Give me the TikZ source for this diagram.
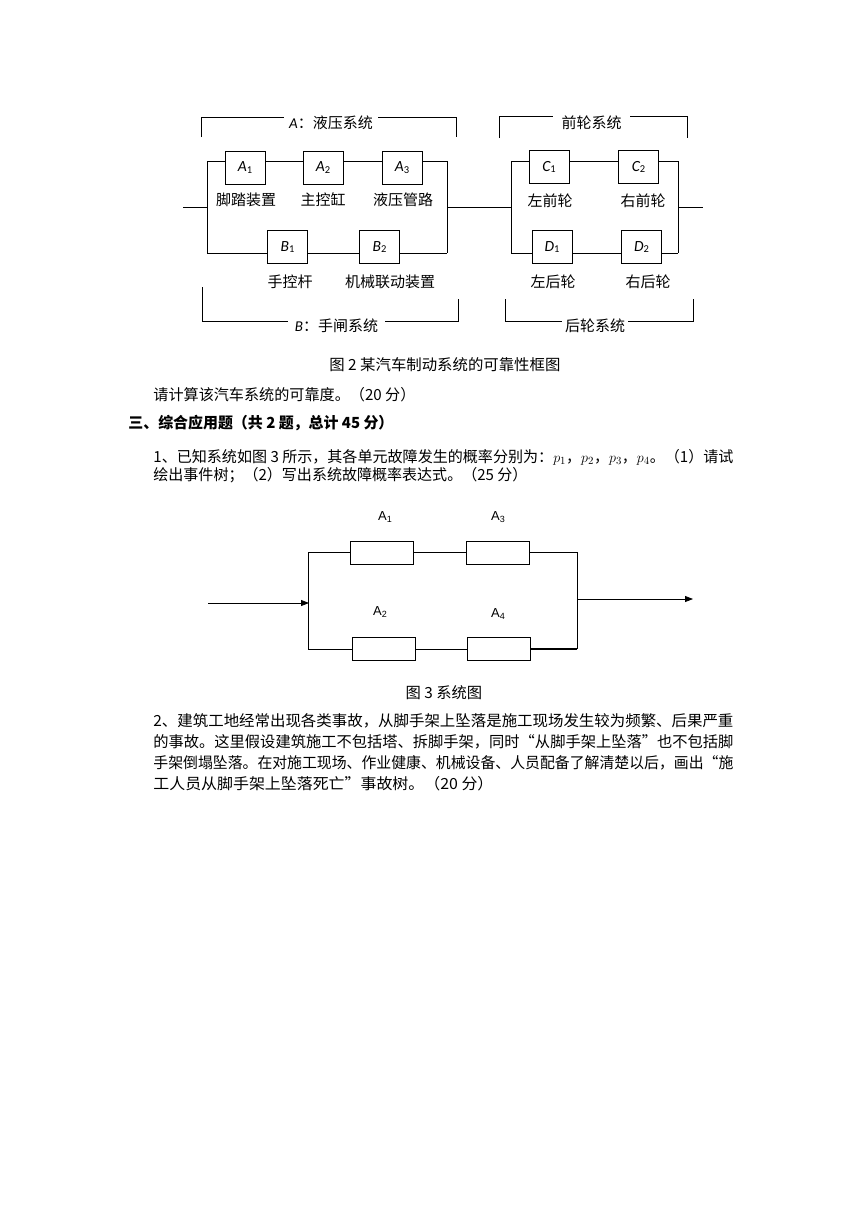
\documentclass[tikz,border=0pt]{standalone}
\usepackage{fontspec}
\usepackage{graphicx}
\setmainfont{Noto Sans CJK SC}
\newfontfamily\latf{Carlito}
\newfontfamily\arialf{Liberation Sans}
\usetikzlibrary{arrows.meta}
\newcommand\boxlab[2]{{\latf\itshape #1}{\latf\raisebox{-0.12em}{\fontsize{10.5}{10.5}\selectfont #2}}}
\newcommand\syslab[2]{{\arialf #1\raisebox{-0.15em}{\fontsize{9}{9}\selectfont #2}}}
\newcommand\fitline[2]{\resizebox{#1pt}{\height}{#2}}
\begin{document}
\begin{tikzpicture}[x=1pt,y=-1pt, line width=0.8pt,
 rbox/.style={draw, minimum width=40pt, minimum height=33pt, inner sep=0pt, font=\fontsize{15.5}{15.5}\selectfont},
 lab/.style={inner sep=0pt, font=\fontsize{15}{15}\selectfont},
 brk/.style={fill=white, inner ysep=1pt, font=\fontsize{15}{15}\selectfont},
 sbox/.style={draw, minimum width=63pt, minimum height=23pt, inner sep=0pt},
 slab/.style={inner sep=0pt, font=\fontsize{13}{13}\selectfont},
 txt/.style={anchor=base west, inner sep=0pt, font=\fontsize{15.3}{15.3}\selectfont},
 arr/.style={-{Triangle[length=8pt,width=6pt]}},
]
\fill[white] (0,0) rectangle (865,1224);
\useasboundingbox (0,0) rectangle (865,1224);

% ---------- Figure 2 ----------
% brackets
\coordinate (aTL) at (201,137); \coordinate (aTR) at (456,137);
\draw (aTL) -- (201,117) -- (456,117) -- (aTR);
\node[brk, inner xsep=5.5pt] (aT) at (331,123) {{\latf\itshape A}：液压系统};
\coordinate (bBL) at (202,287); \coordinate (bBR) at (458,299);
\draw (bBL) -- (202,321) -- (458,321) -- (bBR);
\node[brk, inner xsep=7pt] (bT) at (336.5,326) {{\latf\itshape B}：手闸系统};
\coordinate (cTL) at (499,138); \coordinate (cTR) at (687,138);
\draw (cTL) -- (499,116) -- (687,116) -- (cTR);
\node[brk, inner xsep=8.5pt] (cT) at (591.5,123) {前轮系统};
\coordinate (dBL) at (505,299); \coordinate (dBR) at (693,299);
\draw (dBL) -- (505,321) -- (693,321) -- (dBR);
\node[brk, inner xsep=3pt] (dT) at (595,326) {后轮系统};

% boxes
\node[rbox] (A1) at (245,167.5) {\boxlab{A}{1}};
\node[rbox] (A2) at (323,167.5) {\boxlab{A}{2}};
\node[rbox] (A3) at (402,167.5) {\boxlab{A}{3}};
\node[rbox] (B1) at (287.5,247) {\boxlab{B}{1}};
\node[rbox] (B2) at (379.5,247) {\boxlab{B}{2}};
\node[rbox] (C1) at (549,167) {\boxlab{C}{1}};
\node[rbox] (C2) at (638.5,167) {\boxlab{C}{2}};
\node[rbox] (D1) at (552,247) {\boxlab{D}{1}};
\node[rbox] (D2) at (641.5,247) {\boxlab{D}{2}};

% labels
\node[lab] (lA1) at (246,200) {脚踏装置};
\node[lab] (lA2) at (323,200) {主控缸};
\node[lab] (lA3) at (403,200) {液压管路};
\node[lab] (lB1) at (290,282) {手控杆};
\node[lab] (lB2) at (390,282) {机械联动装置};
\node[lab] (lC1) at (550,201) {左前轮};
\node[lab] (lC2) at (643,201) {右前轮};
\node[lab] (lD1) at (553,282) {左后轮};
\node[lab] (lD2) at (648,282) {右后轮};

% junctions
\coordinate (inL) at (183,207); \coordinate (jL) at (207,207);
\coordinate (jR) at (447,207); \coordinate (kL) at (511,207);
\coordinate (kR) at (678,207); \coordinate (outR) at (703,207);
\coordinate (uL) at (207,161); \coordinate (uR) at (447,161);
\coordinate (lL) at (207,253); \coordinate (lR) at (447,253);
\coordinate (vL) at (511,161); \coordinate (vR) at (678,161);
\coordinate (wL) at (511,253); \coordinate (wR) at (678,253);

\draw (inL) -- (jL);
\draw (uL) -- (lL);
\draw (uR) -- (lR);
\draw (uL) -- (A1.west |- uL);
\draw (A1.east |- uL) -- (A2.west |- uL);
\draw (A2.east |- uL) -- (A3.west |- uL);
\draw (A3.east |- uR) -- (uR);
\draw (lL) -- (B1.west |- lL);
\draw (B1.east |- lL) -- (B2.west |- lL);
\draw (B2.east |- lR) -- (lR);
\draw (jR) -- (kL);
\draw (vL) -- (wL);
\draw (vR) -- (wR);
\draw (vL) -- (C1.west |- vL);
\draw (C1.east |- vL) -- (C2.west |- vL);
\draw (C2.east |- vR) -- (vR);
\draw (wL) -- (D1.west |- wL);
\draw (D1.east |- wL) -- (D2.west |- wL);
\draw (D2.east |- wR) -- (wR);
\draw (kR) -- (outR);

% ---------- text block 1 ----------
\node[txt] (cap2) at (329,370.5) {\fitline{231}{图 2 某汽车制动系统的可靠性框图}};
\node[txt] (q1) at (153,400.5) {\fitline{262}{请计算该汽车系统的可靠度。（20 分）}};
\node[txt, font=\fontsize{15.3}{15.3}\selectfont\bfseries] (h3) at (128,428.5) {\fitline{265}{三、综合应用题（共 2 题，总计 45 分）}};
\node[txt] (p1a) at (153,462.5) {\fitline{580}{1、已知系统如图 3 所示，其各单元故障发生的概率分别为：$p_1$，$p_2$，$p_3$，$p_4$。（1）请试}};
\node[txt] (p1b) at (153,480.5) {\fitline{374}{绘出事件树；（2）写出系统故障概率表达式。（25 分）}};

% ---------- Figure 3 ----------
\node[sbox] (E1) at (381.5,552.5) {};
\node[sbox] (E3) at (497.5,552.5) {};
\node[sbox] (E2) at (384,648.5) {};
\node[sbox] (E4) at (498.5,648.5) {};
\node[slab] (lE1) at (385,517) {\syslab{A}{1}};
\node[slab] (lE3) at (498,517) {\syslab{A}{3}};
\node[slab] (lE2) at (380,612) {\syslab{A}{2}};
\node[slab] (lE4) at (498,614) {\syslab{A}{4}};

\coordinate (tL) at (308,552); \coordinate (bL) at (308,649);
\coordinate (tR) at (577,552); \coordinate (bR) at (577,649);
\coordinate (in3) at (208,603); \coordinate (m3) at (309,603);
\coordinate (o3s) at (577,599); \coordinate (o3e) at (693,599);

\draw (tL) -- (bL);
\draw (tR) -- (bR);
\draw (tL) -- (E1.west |- tL);
\draw (E1.east |- tL) -- (E3.west |- tL);
\draw (E3.east |- tR) -- (tR);
\draw (bL) -- (E2.west |- bL);
\draw (E2.east |- bL) -- (E4.west |- bL);
\draw[line width=1.6pt] (E4.east |- bR) -- (bR);
\draw[arr] (in3) -- (m3);
\draw[arr] (o3s) -- (o3e);

\node[lab, font=\fontsize{15.3}{15.3}\selectfont] (cap3) at (444,693) {图 3 系统图};

% ---------- text block 2 ----------
\node[txt] (p2a) at (153,726.5) {\fitline{580}{2、建筑工地经常出现各类事故，从脚手架上坠落是施工现场发生较为频繁、后果严重}};
\node[txt] (p2b) at (153,747.5) {\fitline{580}{的事故。这里假设建筑施工不包括塔、拆脚手架，同时“从脚手架上坠落”也不包括脚}};
\node[txt] (p2c) at (153,768.5) {\fitline{580}{手架倒塌坠落。在对施工现场、作业健康、机械设备、人员配备了解清楚以后，画出“施}};
\node[txt] (p2d) at (153,789.5) {\fitline{340}{工人员从脚手架上坠落死亡”事故树。（20 分）}};
\end{tikzpicture}
\end{document}
